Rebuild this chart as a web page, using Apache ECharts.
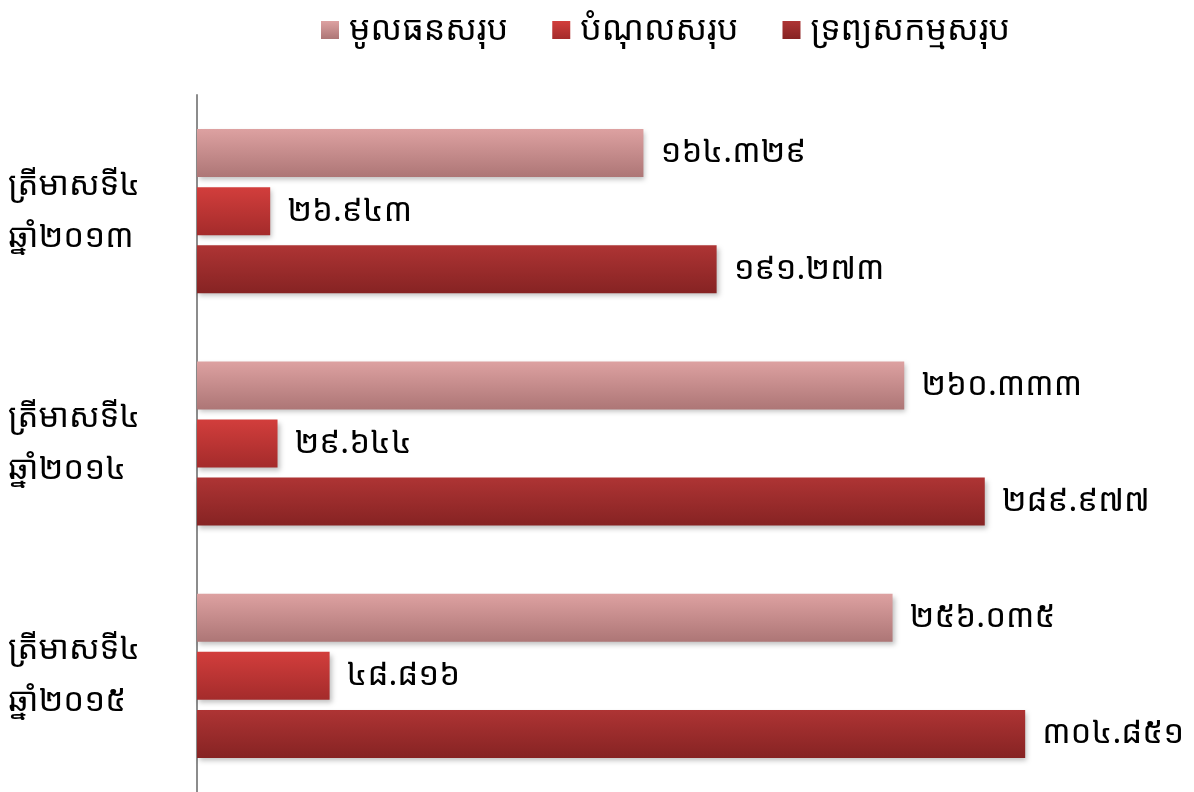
<!DOCTYPE html>
<html>
<head>
<meta charset="utf-8">
<script src="https://cdn.jsdelivr.net/npm/echarts@6/dist/echarts.min.js"></script>
<style>
  html, body { margin: 0; padding: 0; background: #fff; }
  #chart { width: 1194px; height: 792px; }
</style>
</head>
<body>
<div id="chart"></div>
<script>
  var categories = ['ត្រីមាសទី៤\nឆ្នាំ២០១៣', 'ត្រីមាសទី៤\nឆ្នាំ២០១៤', 'ត្រីមាសទី៤\nឆ្នាំ២០១៥'];
  var seriesNames = ['មូលធនសរុប', 'បំណុលសរុប', 'ទ្រព្យសកម្មសរុប'];
  var equity = [164.329, 260.333, 256.035];
  var liabilities = [26.943, 29.644, 48.816];
  var assets = [191.273, 289.977, 304.851];

  var khmerDigits = ['០', '១', '២', '៣', '៤', '៥', '៦', '៧', '៨', '៩'];
  function toKhmer(v) {
    return v.toFixed(3).replace(/[0-9]/g, function (d) { return khmerDigits[+d]; });
  }

  var fontFam = '"Noto Sans Khmer", "Khmer OS", "Noto Sans", "DejaVu Sans", sans-serif';

  function grad(top, bottom) {
    return new echarts.graphic.LinearGradient(0, 0, 0, 1, [
      {offset: 0, color: top},
      {offset: 1, color: bottom}
    ]);
  }
  var colors = [
    grad('#dda1a1', '#ad7676'),
    grad('#d23e3c', '#a42b2b'),
    grad('#ae3434', '#862323')
  ];

  var myChart = echarts.init(document.getElementById('chart'));

  function mkSeries(i, data) {
    return {
      name: seriesNames[i],
      type: 'bar',
      data: data,
      barWidth: 48,
      barGap: '21%',
      itemStyle: {
        color: colors[i],
        shadowColor: 'rgba(0,0,0,0.25)',
        shadowBlur: 5,
        shadowOffsetX: 2,
        shadowOffsetY: 3
      },
      label: {
        show: true,
        position: 'right',
        distance: 17,
        color: '#000',
        fontSize: 33,
        fontFamily: fontFam,
        formatter: function (p) { return toKhmer(p.value); }
      }
    };
  }

  var option = {
    animation: false,
    legend: {
      top: 8,
      left: 316,
      icon: 'rect',
      itemWidth: 18,
      itemHeight: 18,
      itemGap: 44,
      textStyle: { fontSize: 34, color: '#000', fontFamily: fontFam, padding: [0, 0, 0, 5] },
      data: seriesNames
    },
    grid: {
      left: 197,
      right: 19,
      top: 95,
      bottom: -3,
      containLabel: false
    },
    xAxis: {
      type: 'value',
      min: 0,
      max: 360,
      show: false
    },
    yAxis: {
      type: 'category',
      inverse: true,
      data: categories,
      axisLine: { show: true, lineStyle: { color: '#8c8c8c', width: 2 } },
      axisTick: { show: false },
      axisLabel: {
        fontSize: 33,
        color: '#000',
        fontFamily: fontFam,
        align: 'left',
        margin: 189,
        lineHeight: 52
      }
    },
    series: [
      mkSeries(0, equity),
      mkSeries(1, liabilities),
      mkSeries(2, assets)
    ]
  };
  myChart.setOption(option);
</script>
</body>
</html>
